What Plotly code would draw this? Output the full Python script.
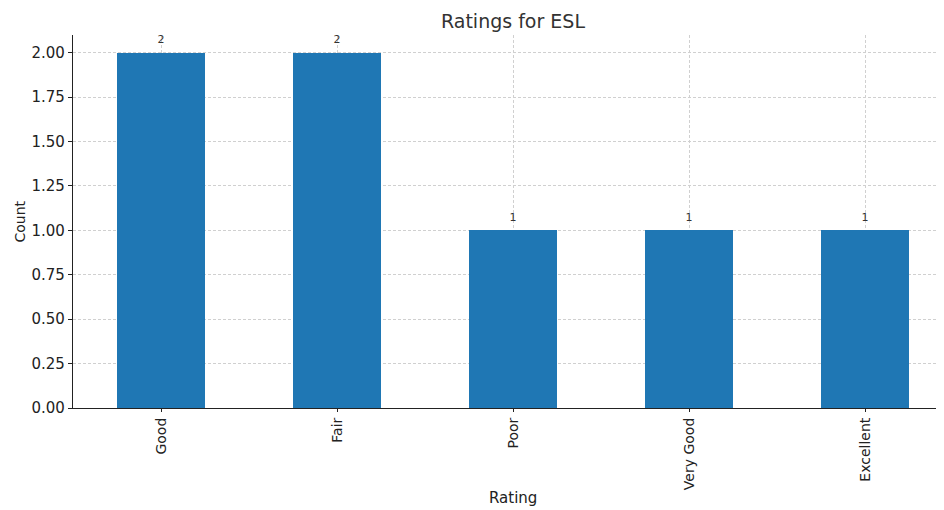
import plotly.graph_objects as go

categories = ["Good", "Fair", "Poor", "Very Good", "Excellent"]
counts = [2, 2, 1, 1, 1]
y_ticks = [0, 0.25, 0.5, 0.75, 1.0, 1.25, 1.5, 1.75, 2.0]
y_tick_labels = ["0.00", "0.25", "0.50", "0.75", "1.00", "1.25", "1.50", "1.75", "2.00"]

xs = list(range(len(categories)))
fig = go.Figure()
fig.add_trace(go.Bar(
    x=xs, y=counts, width=0.5,
    marker=dict(color="#1f77b4", line=dict(width=0)),
    hoverinfo="x+y",
))
fig.add_trace(go.Scatter(
    x=xs, y=counts, mode="markers+text",
    marker=dict(size=9, opacity=0),
    text=[str(c) for c in counts], textposition="top center",
    textfont=dict(size=11, color="#333333"), cliponaxis=False, hoverinfo="skip",
))

# page body has an 8px margin; plot area placed so it lands at (73..944, 35..408) in the window
L, T, R, B = 65, 27, 8, 110
W, H = 944, 510
pw, ph = W - L - R, H - T - B

font = "DejaVu Sans"
fig.update_layout(
    width=W, height=H,
    margin=dict(l=L, r=R, t=T, b=B, autoexpand=False),
    paper_bgcolor="white", plot_bgcolor="white",
    font=dict(family=font, color="#222222"),
    title=dict(text="Ratings for ESL", x=505 / W, xanchor="center", y=1 - 13 / H, yanchor="middle",
               font=dict(size=19, color="#333333")),
    showlegend=False, bargap=0,
    annotations=[
        dict(text="Count", xref="paper", yref="paper", x=(11 - L) / pw, y=0.5,
             xanchor="center", yanchor="middle", textangle=-90, showarrow=False,
             font=dict(size=14, color="#222222")),
        dict(text="Rating", xref="paper", yref="paper", x=(505 - L) / pw, y=-(490 - (H - B)) / ph,
             xanchor="center", yanchor="middle", showarrow=False,
             font=dict(size=15, color="#222222")),
    ],
)
grid = dict(showgrid=True, gridcolor="#d0d0d0", griddash="3px,2px", gridwidth=0.8)
fig.update_xaxes(
    range=[-0.5, -0.5 + pw / 176], tickmode="array", tickvals=xs,
    ticktext=categories, tickangle=-90, tickfont=dict(size=14, color="#222222"),
    showline=True, linecolor="#222222", linewidth=1.2,
    ticks="outside", ticklen=3, tickcolor="#222222",
    zeroline=False, automargin=False, **grid,
)
fig.update_yaxes(
    range=[0, 2.1], tickmode="array", tickvals=y_ticks, ticktext=y_tick_labels,
    tickfont=dict(size=15, color="#222222"),
    showline=True, linecolor="#222222", linewidth=1.2,
    ticks="outside", ticklen=4, tickcolor="#222222",
    zeroline=False, automargin=False, **grid,
)
fig.write_html("out.html")
